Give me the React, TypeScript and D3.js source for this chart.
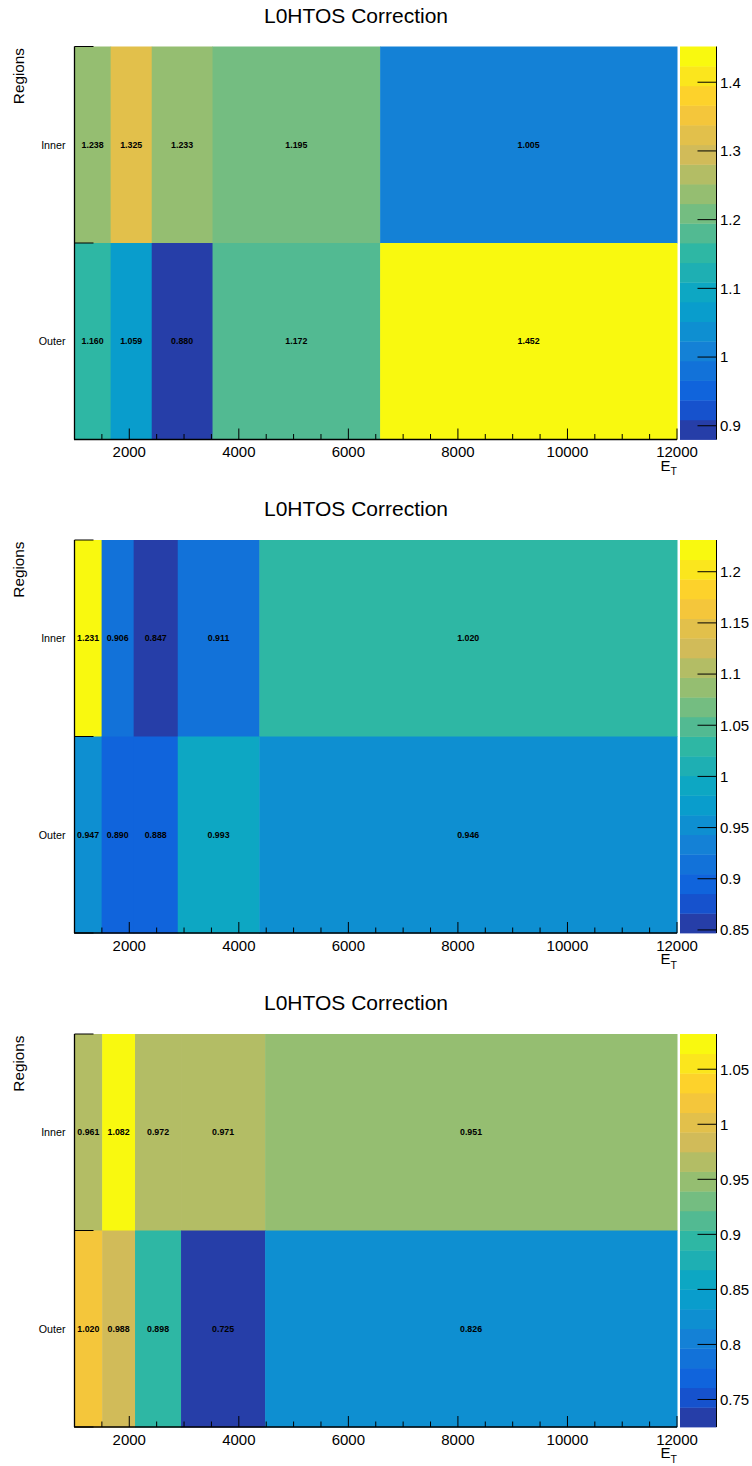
import React from 'react';
import * as d3 from 'd3';

// ---------- data ----------
const regions = ['Inner', 'Outer'];
const title = 'L0HTOS Correction';

const edges1 = [1000, 1660, 2410, 3520, 6580, 12000];
const inner1 = [1.238, 1.325, 1.233, 1.195, 1.005];
const outer1 = [1.16, 1.059, 0.88, 1.172, 1.452];
const zTicks1 = [0.9, 1.0, 1.1, 1.2, 1.3, 1.4];

const edges2 = [1000, 1495, 2080, 2885, 4375, 12000];
const inner2 = [1.231, 0.906, 0.847, 0.911, 1.02];
const outer2 = [0.947, 0.89, 0.888, 0.993, 0.946];
const zTicks2 = [0.85, 0.9, 0.95, 1.0, 1.05, 1.1, 1.15, 1.2];

const edges3 = [1000, 1505, 2105, 2945, 4480, 12000];
const inner3 = [0.961, 1.082, 0.972, 0.971, 0.951];
const outer3 = [1.02, 0.988, 0.898, 0.725, 0.826];
const zTicks3 = [0.75, 0.8, 0.85, 0.9, 0.95, 1.0, 1.05];

const xTicksMajor = [2000, 4000, 6000, 8000, 10000, 12000];
const xDomain = [1000, 12000];

// ---------- palette (kBird) ----------
const stops = [0, 0.125, 0.25, 0.375, 0.5, 0.625, 0.75, 0.875, 1];
const red = [0.2082, 0.0592, 0.078, 0.0232, 0.1802, 0.5301, 0.8186, 0.9956, 0.9764];
const green = [0.1664, 0.3599, 0.5041, 0.6419, 0.7178, 0.7492, 0.7328, 0.7862, 0.9832];
const blue = [0.5293, 0.8684, 0.8385, 0.7914, 0.6425, 0.4662, 0.3499, 0.1968, 0.0539];

function buildPalette(n: number): string[] {
  const pal: string[] = [];
  for (let g = 1; g < stops.length; g++) {
    const k = Math.floor(n * stops[g]) - Math.floor(n * stops[g - 1]);
    for (let c = 0; c < k; c++) {
      const r = red[g - 1] + (c * (red[g] - red[g - 1])) / k;
      const gg = green[g - 1] + (c * (green[g] - green[g - 1])) / k;
      const b = blue[g - 1] + (c * (blue[g] - blue[g - 1])) / k;
      pal.push(d3.rgb(Math.round(r * 255), Math.round(gg * 255), Math.round(b * 255)).formatHex());
    }
  }
  return pal;
}
const NCOL = 255;
const NDIV = 20;
const palette = buildPalette(NCOL);

function levelColor(level: number): string {
  let idx = Math.floor((level + 0.99) * NCOL / NDIV);
  if (idx > NCOL - 1) idx = NCOL - 1;
  return palette[idx];
}

const FONT = "'Liberation Sans', Arial, Helvetica, sans-serif";

// ---------- layout ----------
const W = 752;
const H = 1466;
const panelOffsets = [0, 493.5, 987.5];
const frameLeft = 74.5;
const frameRight = 677;
const frameTopRel = 46.5;
const frameBottomRel = 439.5;
const barLeft = 680;
const barRight = 716.5;

type PanelProps = {
  oy: number;
  edges: number[];
  inner: number[];
  outer: number[];
  zTicks: number[];
};

function Panel({ oy, edges, inner, outer, zTicks }: PanelProps) {
  const top = frameTopRel + oy;
  const bottom = frameBottomRel + oy;
  const x = d3.scaleLinear().domain(xDomain).range([frameLeft, frameRight]);
  const y = d3.scaleLinear().domain([0, 2]).range([bottom, top]);
  const all = [...inner, ...outer];
  const zmin = d3.min(all) as number;
  const zmax = d3.max(all) as number;
  const z = d3.scaleLinear().domain([zmin, zmax]).range([bottom, top]);
  const scale = NDIV / (zmax - zmin);
  const colorOf = (v: number) => levelColor(Math.floor(0.01 + (v - zmin) * scale));

  const rows = [inner, outer]; // row 0 = Inner (top, y in [1,2]), row 1 = Outer (y in [0,1])
  const minorTicks = d3.range(1500, 12000, 500).filter((t) => t % 2000 !== 0);
  const fmt = d3.format('~g');

  return (
    <g>
      <text x={356} y={22.5 + oy} fontFamily={FONT} fontSize={21} textAnchor="middle" fill="#000">
        {title}
      </text>
      {/* cells */}
      {rows.map((vals, r) =>
        vals.map((v, i) => {
          const x0 = x(edges[i]);
          const x1 = x(edges[i + 1]);
          const yTop = y(2 - r);
          const yBot = y(1 - r);
          return (
            <rect
              key={`c${r}-${i}`}
              x={x0}
              y={yTop}
              width={x1 - x0 + 0.5}
              height={yBot - yTop + 0.5}
              fill={colorOf(v)}
            />
          );
        })
      )}
      {/* cell texts */}
      {rows.map((vals, r) =>
        vals.map((v, i) => {
          const cx = (x(edges[i]) + x(edges[i + 1])) / 2;
          const cy = (y(2 - r) + y(1 - r)) / 2;
          return (
            <text
              key={`t${r}-${i}`}
              x={cx}
              y={cy + 3.2}
              fontFamily={FONT}
              fontSize={8.8}
              fontWeight="bold"
              textAnchor="middle"
              fill="#000"
            >
              {v.toFixed(3)}
            </text>
          );
        })
      )}
      {/* x axis */}
      <line x1={frameLeft - 0.5} x2={frameRight} y1={bottom} y2={bottom} stroke="#000" strokeWidth={1.3} />
      {xTicksMajor.map((t) => (
        <g key={`xt${t}`}>
          <line x1={x(t)} x2={x(t)} y1={bottom} y2={bottom - 11} stroke="#000" strokeWidth={1} />
          <text x={x(t)} y={bottom + 17.5} fontFamily={FONT} fontSize={15} textAnchor="middle" fill="#000">
            {t}
          </text>
        </g>
      ))}
      {minorTicks.map((t) => (
        <line key={`xm${t}`} x1={x(t)} x2={x(t)} y1={bottom} y2={bottom - 5.5} stroke="#000" strokeWidth={1} />
      ))}
      <text x={frameRight - 6.5} y={bottom + 31} fontFamily={FONT} fontSize={15} textAnchor="end" fill="#000">
        E
      </text>
      <text x={frameRight} y={bottom + 35.5} fontFamily={FONT} fontSize={10.5} textAnchor="end" fill="#000">
        T
      </text>
      {/* y axis */}
      <line x1={frameLeft} x2={frameLeft} y1={top} y2={bottom} stroke="#000" strokeWidth={1.3} />
      {[0, 1, 2].map((t) => (
        <line key={`yt${t}`} x1={frameLeft} x2={frameLeft + 19} y1={y(t)} y2={y(t)} stroke="#000" strokeWidth={1} />
      ))}
      {regions.map((lab, r) => (
        <text
          key={lab}
          x={65.5}
          y={(y(2 - r) + y(1 - r)) / 2 + 4}
          fontFamily={FONT}
          fontSize={10.7}
          textAnchor="end"
          fill="#000"
        >
          {lab}
        </text>
      ))}
      <text
        transform={`translate(23.5,${top + 1.5}) rotate(-90)`}
        fontFamily={FONT}
        fontSize={15.3}
        textAnchor="end"
        fill="#000"
      >
        Regions
      </text>
      {/* colour bar */}
      {d3.range(NDIV).map((i) => {
        const v0 = zmin + (i * (zmax - zmin)) / NDIV;
        const v1 = zmin + ((i + 1) * (zmax - zmin)) / NDIV;
        return (
          <rect
            key={`b${i}`}
            x={barLeft}
            y={z(v1)}
            width={barRight - barLeft}
            height={z(v0) - z(v1) + 0.4}
            fill={levelColor(i)}
          />
        );
      })}
      <line x1={barRight} x2={barRight} y1={top} y2={bottom} stroke="#000" strokeWidth={1} />
      {zTicks.map((t) => (
        <g key={`zt${t}`}>
          <line x1={barRight} x2={barRight - 19} y1={z(t)} y2={z(t)} stroke="#000" strokeWidth={1} />
          <text x={barRight + 3.5} y={z(t) + 5.3} fontFamily={FONT} fontSize={15} textAnchor="start" fill="#000">
            {fmt(t)}
          </text>
        </g>
      ))}
    </g>
  );
}

export default function App() {
  const panels = [
    { edges: edges1, inner: inner1, outer: outer1, zTicks: zTicks1 },
    { edges: edges2, inner: inner2, outer: outer2, zTicks: zTicks2 },
    { edges: edges3, inner: inner3, outer: outer3, zTicks: zTicks3 },
  ];
  return (
    <svg
      width={W}
      height={H}
      viewBox={`0 0 ${W} ${H}`}
      style={{ position: 'absolute', left: 0, top: 0, background: '#fff' }}
    >
      <rect x={0} y={0} width={W} height={H} fill="#fff" />
      {panels.map((p, k) => (
        <Panel key={k} oy={panelOffsets[k]} {...p} />
      ))}
    </svg>
  );
}
